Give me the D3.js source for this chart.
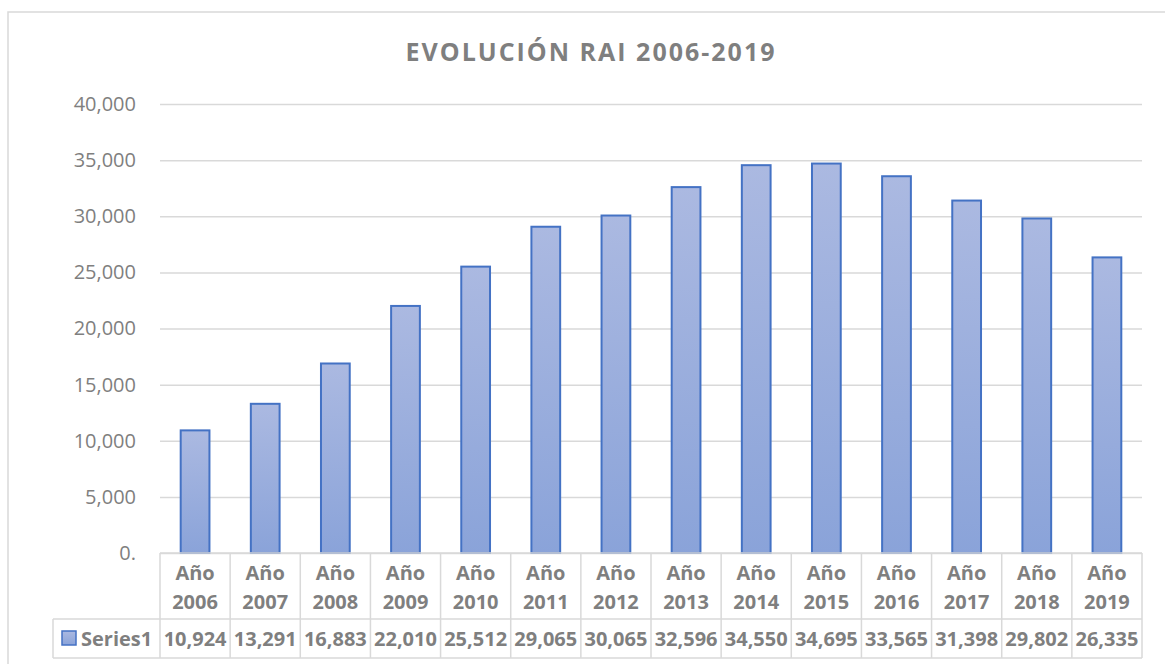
<!DOCTYPE html>
<html>
<head>
<meta charset="utf-8">
<script src="https://cdn.jsdelivr.net/npm/d3@7"></script>
<style>
  body { margin: 0; background: #fff; }
  text { font-family: "Open Sans", sans-serif; }
</style>
</head>
<body>
<svg></svg>
<script>
// data
var title = "EVOLUCIÓN RAI 2006-2019";
var seriesName = "Series1";
var years = ["2006","2007","2008","2009","2010","2011","2012","2013","2014","2015","2016","2017","2018","2019"];
var values = [10924,13291,16883,22010,25512,29065,30065,32596,34550,34695,33565,31398,29802,26335];
var yTicks = [0,5000,10000,15000,20000,25000,30000,35000,40000];

var width = 1165, height = 664;
var plot = {left: 160, right: 1142, top: 104, bottom: 553};
var headRow = 619, dataRow = 658, legendLeft = 53;
var gridCol = "#d9d9d9", textCol = "#7f7f7f";

var svg = d3.select("svg")
    .attr("width", width)
    .attr("height", height);

// gradient for the bars
var grad = svg.append("defs").append("linearGradient")
    .attr("id", "barGrad")
    .attr("x1", 0).attr("y1", 0).attr("x2", 0).attr("y2", 1);
grad.append("stop").attr("offset", "0%").attr("stop-color", "#abb9e1");
grad.append("stop").attr("offset", "100%").attr("stop-color", "#8aa3d9");

// outer chart frame
svg.append("path")
    .attr("d", "M8," + (height + 5) + "V12H" + (width + 5))
    .attr("fill", "none")
    .attr("stroke", gridCol)
    .attr("stroke-width", 1.5);

// title
svg.append("text")
    .attr("x", 591)
    .attr("y", 61)
    .attr("text-anchor", "middle")
    .attr("font-size", 25)
    .attr("letter-spacing", 2)
    .attr("font-weight", "bold")
    .attr("fill", textCol)
    .text(title);

// scales
var y = d3.scaleLinear()
    .domain([0, 40000])
    .range([plot.bottom, plot.top]);

var xCol = d3.scaleBand()
    .domain(years)
    .range([plot.left, plot.right]);

var xBar = d3.scaleBand()
    .domain(years)
    .range([plot.left, plot.right])
    .paddingInner(0.59)
    .paddingOuter(0.295);

// gridlines + y labels via axis
var yAxis = svg.append("g")
    .attr("transform", "translate(" + plot.left + ",0)")
    .call(d3.axisLeft(y)
        .tickValues(yTicks)
        .tickSize(-(plot.right - plot.left))
        .tickPadding(24)
        .tickFormat(function(d){ return d === 0 ? "0." : d3.format(",")(d); }));
yAxis.select(".domain").remove();
yAxis.selectAll(".tick line")
    .attr("stroke", gridCol)
    .attr("stroke-width", 1.5);
yAxis.selectAll(".tick text")
    .attr("fill", textCol)
    .attr("font-size", 20)
    .attr("font-family", "Open Sans, sans-serif");

// bars
svg.selectAll(".bar")
    .data(values)
    .enter().append("rect")
    .attr("class", "bar")
    .attr("x", function(d, i){ return xBar(years[i]); })
    .attr("y", function(d){ return y(d); })
    .attr("width", xBar.bandwidth())
    .attr("height", function(d){ return y(0) - y(d); })
    .attr("fill", "url(#barGrad)")
    .attr("stroke", "#4472c4")
    .attr("stroke-width", 2);

// data table under the plot
var table = svg.append("g")
    .attr("fill", "none")
    .attr("stroke", gridCol)
    .attr("stroke-width", 1.5);

table.append("line")
    .attr("x1", plot.left).attr("x2", plot.right)
    .attr("y1", plot.bottom).attr("y2", plot.bottom);
table.append("line")
    .attr("x1", legendLeft).attr("x2", plot.right)
    .attr("y1", headRow).attr("y2", headRow);
table.append("line")
    .attr("x1", legendLeft).attr("x2", plot.right)
    .attr("y1", dataRow).attr("y2", dataRow);
table.append("line")
    .attr("x1", legendLeft).attr("x2", legendLeft)
    .attr("y1", headRow).attr("y2", dataRow);

var edges = years.map(function(d){ return xCol(d); }).concat([plot.right]);
table.selectAll(".vline")
    .data(edges)
    .enter().append("line")
    .attr("x1", function(d){ return d; })
    .attr("x2", function(d){ return d; })
    .attr("y1", plot.bottom)
    .attr("y2", dataRow);

// header labels
var head = svg.selectAll(".head")
    .data(years)
    .enter().append("text")
    .attr("text-anchor", "middle")
    .attr("font-size", 20)
    .attr("font-weight", "bold")
    .attr("fill", textCol);
head.append("tspan")
    .attr("x", function(d){ return xCol(d) + xCol.bandwidth() / 2; })
    .attr("y", 580)
    .text("Año");
head.append("tspan")
    .attr("x", function(d){ return xCol(d) + xCol.bandwidth() / 2; })
    .attr("y", 609)
    .text(function(d){ return d; });

// values row
svg.selectAll(".val")
    .data(values)
    .enter().append("text")
    .attr("x", function(d, i){ return xCol(years[i]) + xCol.bandwidth() / 2; })
    .attr("y", 646)
    .attr("text-anchor", "middle")
    .attr("font-size", 20)
    .attr("font-weight", "bold")
    .attr("fill", textCol)
    .text(function(d){ return d3.format(",")(d); });

// legend key
svg.append("rect")
    .attr("x", 62).attr("y", 631)
    .attr("width", 14).attr("height", 14)
    .attr("fill", "url(#barGrad)")
    .attr("stroke", "#4472c4")
    .attr("stroke-width", 1.5);
svg.append("text")
    .attr("x", 81)
    .attr("y", 646)
    .attr("font-size", 20)
    .attr("font-weight", "bold")
    .attr("fill", textCol)
    .text(seriesName);
</script>
</body>
</html>
